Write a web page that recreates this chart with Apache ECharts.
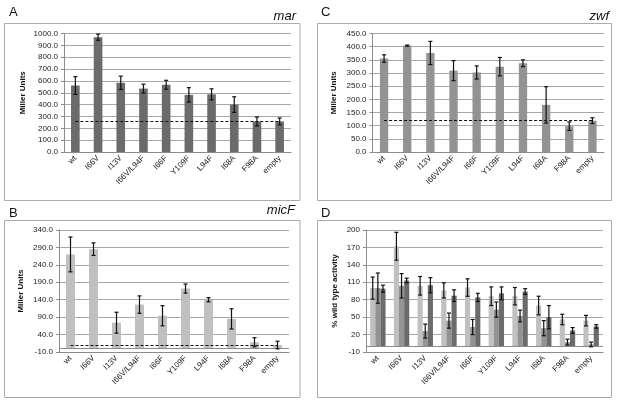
<!DOCTYPE html>
<html>
<head>
<meta charset="utf-8">
<script src="https://cdn.jsdelivr.net/npm/echarts@6/dist/echarts.min.js"></script>
<style>
  html, body { margin: 0; padding: 0; background: #fff; }
  #main { width: 621px; height: 403px; }
</style>
</head>
<body>
<div id="main"></div>
<script>
const mutants = ['wt', 'I66V', 'I13V', 'I66V/L94F', 'I66F', 'Y109F', 'L94F', 'I68A', 'F98A', 'empty'];

// A: mar (Miller units)
const marValues = [561, 969, 584, 535, 567, 482, 487, 400, 258, 258];
const marErr = [75, 26, 56, 37, 38, 61, 46, 66, 37, 29];
const marBaseline = 258;

// B: micF (Miller units)
const micfValues = [270, 285, 74, 126, 94, 172, 140, 85, 18, 10];
const micfErr = [50, 18, 30, 25, 29, 13, 6, 29, 13, 11];
const micfBaseline = 10;

// C: zwf (Miller units)
const zwfValues = [355, 404, 376, 309, 302, 324, 337, 179, 98, 119];
const zwfErr = [14, 2, 44, 38, 25, 35, 13, 69, 16, 11];
const zwfBaseline = 120;

// D: % wild type activity (micF, zwf, mar)
const dMicf = [100, 172, 104, 96, 101, 86, 86, 70, 46, 44];
const dMicfErr = [19, 24, 16, 13, 15, 16, 15, 16, 9, 9];
const dZwf = [100, 104, 26, 44, 33, 63, 52, 31, 7, 3];
const dZwfErr = [26, 21, 12, 13, 13, 13, 10, 13, 5, 4];
const dMar = [99, 113, 105, 87, 84, 91, 94, 50, 27, 34];
const dMarErr = [6, 4, 13, 10, 7, 11, 5, 20, 5, 3];

const LIGHT = '#c0c0c0', MID = '#939393', DARK = '#6b6b6b';
const FONT = 'Liberation Sans, Arial, sans-serif';
const GRID_LINE = '#a8a8a8';
const AXIS_GREY = '#8c8c8c';

const chart = echarts.init(document.getElementById('main'), null, { renderer: 'canvas' });

function xAxisFor(i) {
    return {
        type: 'category', gridIndex: i, data: mutants,
        axisLine: { onZero: false, lineStyle: { color: AXIS_GREY } },
        axisTick: { length: 3, lineStyle: { color: AXIS_GREY } },
        axisLabel: { rotate: 45, interval: 0, fontSize: 8, color: '#222', fontFamily: FONT, margin: 5 }
    };
}

function yAxisFor(i, min, max, interval, digits, name, gap) {
    return {
        type: 'value', gridIndex: i, min, max, interval,
        name, nameLocation: 'middle', nameGap: gap,
        nameTextStyle: { fontSize: 8, fontWeight: 'bold', color: '#111', fontFamily: FONT },
        axisLine: { show: true, lineStyle: { color: AXIS_GREY } },
        axisTick: { show: true, length: 3, lineStyle: { color: AXIS_GREY } },
        axisLabel: { fontSize: 8, color: '#222', fontFamily: FONT, margin: 6,
            formatter: v => v.toFixed(digits) },
        splitLine: { lineStyle: { color: GRID_LINE, width: 1 } }
    };
}

function errorBars(i, values, errs, slot, slots) {
    return {
        type: 'custom', xAxisIndex: i, yAxisIndex: i, z: 5,
        data: values.map((v, k) => [k, v - errs[k], v + errs[k]]),
        renderItem: (params, api) => {
            const top = api.coord([api.value(0), api.value(2)]);
            const bot = api.coord([api.value(0), api.value(1)]);
            const band = api.size([1, 0])[0];
            const off = slots > 1 ? (slot - (slots - 1) / 2) * band * 0.65 / slots : 0;
            const x = top[0] + off;
            const cap = 2;
            const style = { stroke: '#111', lineWidth: 1.2 };
            return {
                type: 'group',
                children: [
                    { type: 'line', shape: { x1: x, y1: top[1], x2: x, y2: bot[1] }, style },
                    { type: 'line', shape: { x1: x - cap, y1: top[1], x2: x + cap, y2: top[1] }, style },
                    { type: 'line', shape: { x1: x - cap, y1: bot[1], x2: x + cap, y2: bot[1] }, style }
                ]
            };
        }
    };
}

// dashed reference line (empty vector level), optionally plus the solid axis line at 0
function marks(baseline, withZero) {
    const data = [];
    if (baseline !== null) {
        data.push([{ coord: [0, baseline] }, { coord: [mutants.length - 1, baseline] }]);
    }
    if (withZero) {
        data.push({ yAxis: 0, lineStyle: { type: 'solid', color: AXIS_GREY, width: 1 } });
    }
    return {
        silent: true, symbol: 'none', precision: 1,
        label: { show: false },
        lineStyle: { type: [3, 2], color: '#111', width: 1.2 },
        data
    };
}

function box(x, y, w, h) {
    return { type: 'rect', shape: { x, y, width: w, height: h }, silent: true,
        style: { fill: 'none', stroke: '#ababab', lineWidth: 1 } };
}

function label(text, x, y, align, italic) {
    return { type: 'text', x, y, silent: true,
        style: { text, fontSize: 13, fontFamily: FONT, fontStyle: italic ? 'italic' : 'normal',
            fill: '#111', align, verticalAlign: 'top' } };
}

chart.setOption({
    animation: false,
    backgroundColor: '#fff',
    graphic: [
        box(4.5, 23.5, 295.5, 177), box(317.5, 23.5, 294, 177),
        box(4.5, 220.5, 295.5, 177), box(317.5, 220.5, 294, 177),
        label('A', 9, 6, 'left'), label('mar', 296, 10, 'right', true),
        label('C', 321, 6, 'left'), label('zwf', 609, 10, 'right', true),
        label('B', 9, 207, 'left'), label('micF', 295, 204, 'right', true),
        label('D', 321, 207, 'left')
    ],
    grid: [
        { left: 64, top: 33.5, width: 227, height: 118.5 },
        { left: 59, top: 230, width: 230, height: 122 },
        { left: 372.5, top: 33.5, width: 231.5, height: 118.5 },
        { left: 366, top: 230, width: 237, height: 122 }
    ],
    xAxis: [xAxisFor(0), xAxisFor(1), xAxisFor(2), xAxisFor(3)],
    yAxis: [
        yAxisFor(0, 0, 1000, 100, 1, 'Miller Units', 37),
        yAxisFor(1, -10, 340, 50, 1, 'Miller Units', 34),
        yAxisFor(2, 0, 450, 50, 1, 'Miller Units', 35),
        yAxisFor(3, -10, 200, 30, 0, '% wild type activity', 27)
    ],
    series: [
        { type: 'bar', xAxisIndex: 0, yAxisIndex: 0, data: marValues, barCategoryGap: '62%',
          itemStyle: { color: DARK }, markLine: marks(marBaseline, false) },
        errorBars(0, marValues, marErr, 0, 1),

        { type: 'bar', xAxisIndex: 1, yAxisIndex: 1, data: micfValues, barCategoryGap: '61%',
          itemStyle: { color: LIGHT }, markLine: marks(micfBaseline, true) },
        errorBars(1, micfValues, micfErr, 0, 1),

        { type: 'bar', xAxisIndex: 2, yAxisIndex: 2, data: zwfValues, barCategoryGap: '64%',
          itemStyle: { color: MID }, markLine: marks(zwfBaseline, false) },
        errorBars(2, zwfValues, zwfErr, 0, 1),

        { type: 'bar', xAxisIndex: 3, yAxisIndex: 3, data: dMicf, barGap: '0%', barCategoryGap: '35%',
          itemStyle: { color: LIGHT }, markLine: marks(null, true) },
        { type: 'bar', xAxisIndex: 3, yAxisIndex: 3, data: dZwf, barGap: '0%', barCategoryGap: '35%',
          itemStyle: { color: MID } },
        { type: 'bar', xAxisIndex: 3, yAxisIndex: 3, data: dMar, barGap: '0%', barCategoryGap: '35%',
          itemStyle: { color: DARK } },
        errorBars(3, dMicf, dMicfErr, 0, 3),
        errorBars(3, dZwf, dZwfErr, 1, 3),
        errorBars(3, dMar, dMarErr, 2, 3)
    ]
});
</script>
</body>
</html>
